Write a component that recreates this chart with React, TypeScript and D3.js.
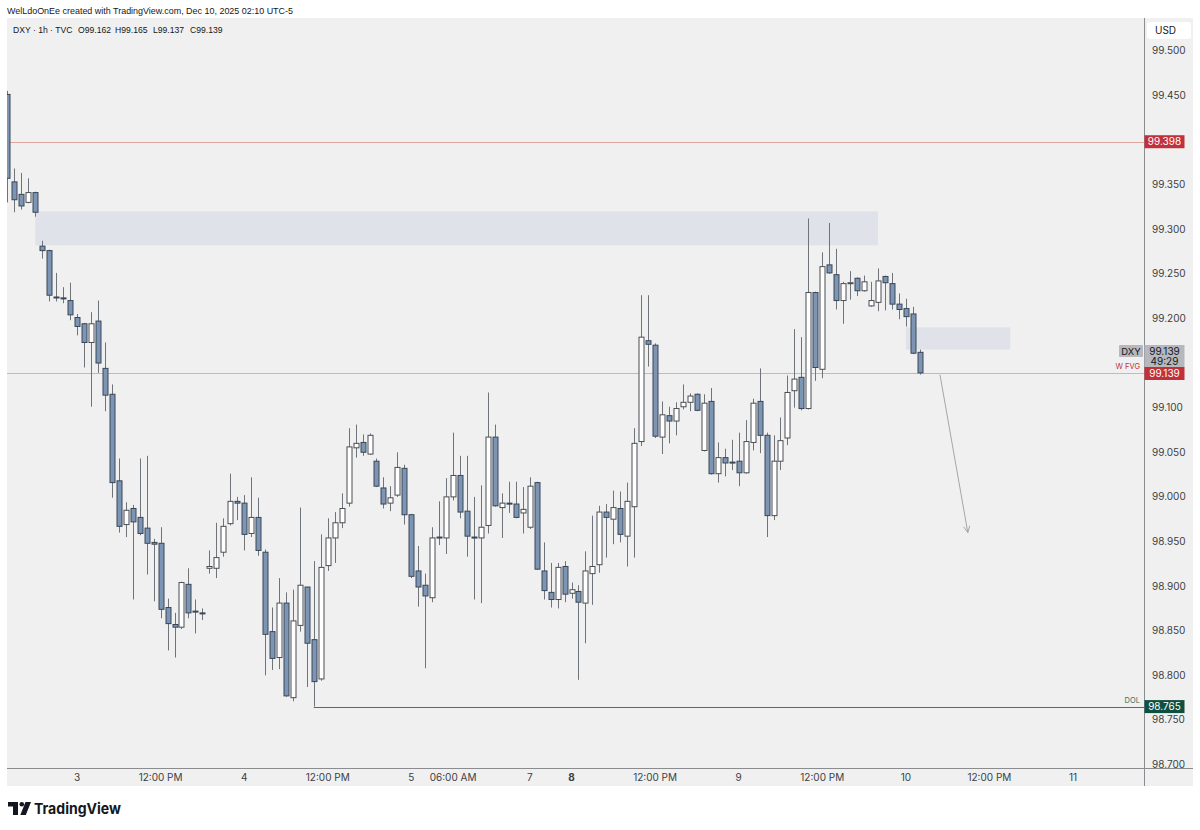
import React from "react";
import * as d3 from "d3";

// ---- data ----
// OHLC per 1h candle, index 0 = Dec 2 14:00 (UTC-5); weekend gap removed
const candles: [number, number, number, number][] = [
  [99.451, 99.455, 99.330, 99.357],
  [99.353, 99.368, 99.319, 99.333],
  [99.339, 99.363, 99.322, 99.326],
  [99.330, 99.357, 99.329, 99.341],
  [99.341, 99.342, 99.314, 99.319],
  [99.281, 99.287, 99.267, 99.276],
  [99.276, 99.277, 99.219, 99.226],
  [99.224, 99.251, 99.219, 99.223],
  [99.223, 99.235, 99.217, 99.222],
  [99.220, 99.240, 99.198, 99.204],
  [99.201, 99.205, 99.181, 99.191],
  [99.194, 99.195, 99.145, 99.173],
  [99.173, 99.207, 99.101, 99.194],
  [99.197, 99.220, 99.139, 99.150],
  [99.144, 99.173, 99.096, 99.114],
  [99.115, 99.126, 98.999, 99.016],
  [99.018, 99.043, 98.960, 98.967],
  [98.969, 98.994, 98.955, 98.985],
  [98.987, 98.991, 98.885, 98.972],
  [98.977, 99.043, 98.957, 98.959],
  [98.965, 99.046, 98.913, 98.948],
  [98.949, 98.953, 98.883, 98.947],
  [98.948, 98.966, 98.864, 98.874],
  [98.876, 98.886, 98.828, 98.858],
  [98.857, 98.870, 98.820, 98.854],
  [98.854, 98.905, 98.852, 98.904],
  [98.902, 98.920, 98.864, 98.870],
  [98.872, 98.885, 98.847, 98.871],
  [98.870, 98.875, 98.862, 98.869],
  [98.920, 98.940, 98.914, 98.922],
  [98.920, 98.971, 98.909, 98.932],
  [98.938, 98.976, 98.933, 98.967],
  [98.970, 99.026, 98.968, 98.995],
  [98.995, 99.000, 98.974, 98.993],
  [98.993, 99.002, 98.940, 98.958],
  [98.959, 99.022, 98.955, 98.977],
  [98.977, 98.999, 98.934, 98.940],
  [98.938, 98.941, 98.800, 98.846],
  [98.849, 98.876, 98.806, 98.819],
  [98.820, 98.909, 98.807, 98.881],
  [98.881, 98.893, 98.776, 98.777],
  [98.775, 98.896, 98.771, 98.861],
  [98.856, 98.988, 98.849, 98.901],
  [98.899, 98.899, 98.787, 98.836],
  [98.840, 98.928, 98.765, 98.793],
  [98.796, 98.958, 98.794, 98.921],
  [98.923, 98.976, 98.917, 98.954],
  [98.954, 98.983, 98.926, 98.971],
  [98.971, 99.004, 98.965, 98.987],
  [98.993, 99.077, 98.989, 99.056],
  [99.055, 99.081, 99.044, 99.060],
  [99.061, 99.070, 99.046, 99.050],
  [99.048, 99.071, 99.047, 99.069],
  [99.040, 99.043, 99.011, 99.012],
  [99.010, 99.022, 98.987, 98.992],
  [98.993, 99.012, 98.984, 98.999],
  [99.002, 99.050, 99.000, 99.033],
  [99.032, 99.036, 98.969, 98.980],
  [98.980, 98.981, 98.909, 98.911],
  [98.917, 98.945, 98.877, 98.899],
  [98.901, 98.914, 98.808, 98.889],
  [98.887, 98.966, 98.882, 98.954],
  [98.955, 98.995, 98.946, 98.954],
  [98.954, 99.021, 98.936, 99.000],
  [99.000, 99.072, 98.996, 99.024],
  [99.024, 99.046, 98.976, 98.983],
  [98.984, 99.046, 98.933, 98.956],
  [98.955, 99.000, 98.885, 98.954],
  [98.954, 99.013, 98.881, 98.966],
  [98.968, 99.117, 98.959, 99.067],
  [99.067, 99.081, 98.989, 98.990],
  [98.988, 99.004, 98.954, 98.993],
  [98.993, 99.017, 98.982, 98.992],
  [98.992, 99.017, 98.976, 98.977],
  [98.982, 99.011, 98.959, 98.986],
  [98.966, 99.022, 98.964, 99.012],
  [99.016, 99.017, 98.918, 98.919],
  [98.917, 98.949, 98.885, 98.895],
  [98.893, 98.926, 98.876, 98.885],
  [98.885, 98.926, 98.875, 98.921],
  [98.922, 98.928, 98.882, 98.891],
  [98.892, 98.904, 98.886, 98.896],
  [98.894, 98.901, 98.795, 98.882],
  [98.881, 98.939, 98.836, 98.917],
  [98.914, 98.979, 98.879, 98.922],
  [98.924, 98.990, 98.915, 98.983],
  [98.983, 98.992, 98.932, 98.977],
  [98.975, 99.007, 98.947, 98.988],
  [98.987, 99.006, 98.949, 98.958],
  [98.956, 99.016, 98.922, 98.995],
  [98.989, 99.077, 98.932, 99.060],
  [99.062, 99.226, 99.057, 99.179],
  [99.175, 99.226, 99.146, 99.171],
  [99.170, 99.172, 99.066, 99.068],
  [99.067, 99.107, 99.048, 99.092],
  [99.091, 99.101, 99.060, 99.085],
  [99.085, 99.106, 99.069, 99.099],
  [99.101, 99.126, 99.098, 99.106],
  [99.106, 99.116, 99.096, 99.113],
  [99.115, 99.116, 99.096, 99.097],
  [99.052, 99.115, 99.051, 99.105],
  [99.107, 99.122, 99.025, 99.026],
  [99.026, 99.061, 99.016, 99.044],
  [99.044, 99.054, 99.023, 99.038],
  [99.039, 99.064, 99.030, 99.038],
  [99.040, 99.072, 99.012, 99.027],
  [99.027, 99.086, 99.026, 99.062],
  [99.061, 99.110, 99.052, 99.105],
  [99.107, 99.144, 99.049, 99.069],
  [99.069, 99.072, 98.955, 98.979],
  [98.979, 99.069, 98.974, 99.040],
  [99.040, 99.089, 99.030, 99.063],
  [99.066, 99.136, 99.058, 99.117],
  [99.119, 99.188, 99.100, 99.132],
  [99.134, 99.179, 99.097, 99.099],
  [99.099, 99.312, 99.098, 99.229],
  [99.229, 99.230, 99.130, 99.145],
  [99.143, 99.274, 99.133, 99.258],
  [99.260, 99.307, 99.250, 99.251],
  [99.249, 99.278, 99.210, 99.220],
  [99.220, 99.241, 99.194, 99.239],
  [99.239, 99.253, 99.221, 99.240],
  [99.245, 99.246, 99.225, 99.231],
  [99.231, 99.248, 99.230, 99.241],
  [99.214, 99.241, 99.213, 99.220],
  [99.218, 99.256, 99.208, 99.242],
  [99.247, 99.248, 99.209, 99.240],
  [99.239, 99.251, 99.210, 99.216],
  [99.216, 99.228, 99.199, 99.210],
  [99.211, 99.222, 99.191, 99.202],
  [99.205, 99.213, 99.160, 99.161],
  [99.162, 99.165, 99.137, 99.139],
];

const priceTicks = [99.5, 99.45, 99.35, 99.3, 99.25, 99.2, 99.1, 99.05, 99.0, 98.95, 98.9, 98.85, 98.8, 98.75, 98.7];
const timeTickIndex = [10, 22, 34, 46, 58, 64, 75, 81, 93, 105, 117, 129, 141, 153];
const timeTickLabels = ["3", "12:00 PM", "4", "12:00 PM", "5", "06:00 AM", "7", "8", "12:00 PM", "9", "12:00 PM", "10", "12:00 PM", "11"];
const boldTimeTicks = ["8"];
const legendParts = ["DXY · 1h · TVC", "O99.162", "H99.165", "L99.137", "C99.139"];

// zones: [startIndex, endIndex, top, bottom]
const supplyZone = [4, 125, 99.32, 99.282];
const fvgZone = [129, 144, 99.19, 99.165];
const highLevel = 99.398;
const lastPrice = 99.139;
const dolLevel = 98.765;
const dolStartIndex = 44;
const arrowPath: [number, number][] = [[133.9, 99.137], [137.9, 98.96]];

const W = 1200, H = 830;
const PL = 7, PR = 1144, PT = 18, PB = 768, PANEL_R = 1193, PANEL_B = 786;

export default function App() {
  const x = d3.scaleLinear().domain([0, 153]).range([7.35, 1073]);
  const y = d3.scaleLinear().domain([98.7, 99.5]).range([764.6, 50.7]);
  const font = "Inter, 'Noto Sans', 'DejaVu Sans', sans-serif";
  const hfont = "'Liberation Sans', Arial, sans-serif";
  const bw = 5;

  const [a0, a1] = arrowPath;
  const ax0 = x(a0[0]), ay0 = y(a0[1]), ax1 = x(a1[0]), ay1 = y(a1[1]);
  const ang = Math.atan2(ay1 - ay0, ax1 - ax0);
  const hl = 7;
  const h1 = [ax1 - hl * Math.cos(ang - 0.45), ay1 - hl * Math.sin(ang - 0.45)];
  const h2 = [ax1 - hl * Math.cos(ang + 0.45), ay1 - hl * Math.sin(ang + 0.45)];

  const boxX = PR + 0.5;
  const boxW = 40;
  const legendX = [13, 78, 115, 153, 190];

  return (
    <svg width={W} height={H} style={{ position: "absolute", left: 0, top: 0, background: "#fff" }} fontFamily={font}>
      <defs>
        <clipPath id="plot">
          <rect x={PL} y={PT} width={PR - PL} height={PB - PT} />
        </clipPath>
        <clipPath id="axisclip">
          <rect x={PR} y={PT} width={PANEL_R - PR} height={PB - PT} />
        </clipPath>
      </defs>
      <rect x={0} y={0} width={W} height={H} fill="#ffffff" />
      <text x={7} y={14} fontSize={9.2} fontFamily={hfont} fill="#131722" textLength={286} lengthAdjust="spacingAndGlyphs">WelLdoOnEe created with TradingView.com, Dec 10, 2025 02:10 UTC-5</text>
      <rect x={PL} y={PT} width={PANEL_R - PL} height={PANEL_B - PT} fill="#f0f0f0" />

      <g clipPath="url(#plot)">
        <rect x={x(supplyZone[0])} y={y(supplyZone[2])} width={x(supplyZone[1]) - x(supplyZone[0])} height={y(supplyZone[3]) - y(supplyZone[2])} fill="#dfe3e9" />
        <rect x={x(fvgZone[0])} y={y(fvgZone[2])} width={x(fvgZone[1]) - x(fvgZone[0])} height={y(fvgZone[3]) - y(fvgZone[2])} fill="#dfe3e9" />
        <line x1={PL} x2={PR} y1={Math.round(y(highLevel)) + 0.5} y2={Math.round(y(highLevel)) + 0.5} stroke="#e0a79e" strokeWidth={1} />
        <line x1={PL} x2={PR} y1={Math.round(y(lastPrice)) + 0.5} y2={Math.round(y(lastPrice)) + 0.5} stroke="#e6aaa8" strokeWidth={1} />
        <line x1={x(dolStartIndex)} x2={PR} y1={Math.round(y(dolLevel)) + 0.5} y2={Math.round(y(dolLevel)) + 0.5} stroke="#4d6f69" strokeWidth={1} />
        {candles.map((c, i) => {
          const [o, h, l, cl] = c;
          const cx = Math.round(x(i)) + 0.5;
          const bull = cl >= o;
          const top = y(Math.max(o, cl));
          const bot = y(Math.min(o, cl));
          const bh = Math.max(1, bot - top);
          return (
            <g key={i}>
              <line x1={cx} x2={cx} y1={y(h)} y2={y(l)} stroke="#6f737a" strokeWidth={1} />
              <rect x={cx - bw / 2} y={top} width={bw} height={bh} fill={bull ? "#ffffff" : "#7d95b4"} stroke={bull ? "#4a4d52" : "#3a4656"} strokeWidth={1} />
            </g>
          );
        })}
        <line x1={ax0} y1={ay0} x2={ax1} y2={ay1} stroke="#a3a6ab" strokeWidth={1} />
        <polyline points={`${h1[0]},${h1[1]} ${ax1},${ay1} ${h2[0]},${h2[1]}`} fill="none" stroke="#a3a6ab" strokeWidth={1} />
      </g>

      {legendParts.map((t, k) => (
        <text key={k} x={legendX[k]} y={33} fontSize={8.6} fontFamily={hfont} fill="#131722">{t}</text>
      ))}

      {/* axes separators */}
      <line x1={PR + 0.5} x2={PR + 0.5} y1={PT} y2={PANEL_B} stroke="#8a8c90" strokeWidth={1} />
      <line x1={PL} x2={PANEL_R} y1={PB + 0.5} y2={PB + 0.5} stroke="#8a8c90" strokeWidth={1} />

      {/* price axis */}
      <g clipPath="url(#axisclip)">
        {priceTicks.map((p) => (
          <text key={p} x={1152} y={y(p) + 3.5} fontSize={10} fill="#3c3f44">{p.toFixed(3)}</text>
        ))}
      </g>
      <rect x={1147} y={22} width={44} height={17} rx={3} fill="#ffffff" />
      <text x={1155} y={34} fontSize={10} fill="#131722">USD</text>

      {/* labels on axis */}
      <rect x={boxX} y={y(highLevel) - 6.5} width={boxW} height={13} fill="#c2303b" />
      <text x={boxX + 20} y={y(highLevel) + 3.5} fontSize={10} fill="#ffffff" textAnchor="middle">{highLevel.toFixed(3)}</text>

      <rect x={1119} y={345} width={24} height={12} rx={1} fill="#b6b8bd" />
      <text x={1131} y={354.5} fontSize={9.5} fill="#131722" textAnchor="middle">DXY</text>
      <rect x={boxX} y={345} width={boxW} height={22} fill="#b6b8bd" />
      <text x={boxX + 20} y={354.5} fontSize={10} fill="#131722" textAnchor="middle">{lastPrice.toFixed(3)}</text>
      <text x={boxX + 20} y={364.5} fontSize={10} fill="#131722" textAnchor="middle">49:29</text>
      <rect x={boxX} y={367} width={boxW} height={13} fill="#c2303b" />
      <text x={boxX + 20} y={377} fontSize={10} fill="#ffffff" textAnchor="middle">{lastPrice.toFixed(3)}</text>
      <text x={1140} y={369} fontSize={7.5} fill="#c2303b" textAnchor="end">W FVG</text>

      <rect x={boxX} y={y(dolLevel) - 6.5} width={boxW} height={13} fill="#0e4f3f" />
      <text x={boxX + 20} y={y(dolLevel) + 3.5} fontSize={10} fill="#ffffff" textAnchor="middle">{dolLevel.toFixed(3)}</text>
      <text x={1140} y={703} fontSize={7.5} fill="#3e6b63" textAnchor="end">DOL</text>

      {/* time axis */}
      {timeTickIndex.map((ti, k) => (
        <text key={k} x={x(ti)} y={781} fontSize={10} fill="#3c3f44" textAnchor="middle" fontWeight={boldTimeTicks.includes(timeTickLabels[k]) ? 700 : 400}>{timeTickLabels[k]}</text>
      ))}

      {/* TradingView logo */}
      <g fill="#131722">
        <path d="M8 802 h10 v13 h-5 v-8.5 h-5 z" />
        <circle cx={21.8} cy={804.2} r={2.3} />
        <path d="M25.5 802 h5.5 l-5.2 13 h-5.5 z" />
      </g>
      <text x={34} y={814} fontSize={15} fontWeight={700} fill="#131722" textLength={87} lengthAdjust="spacingAndGlyphs">TradingView</text>
    </svg>
  );
}
